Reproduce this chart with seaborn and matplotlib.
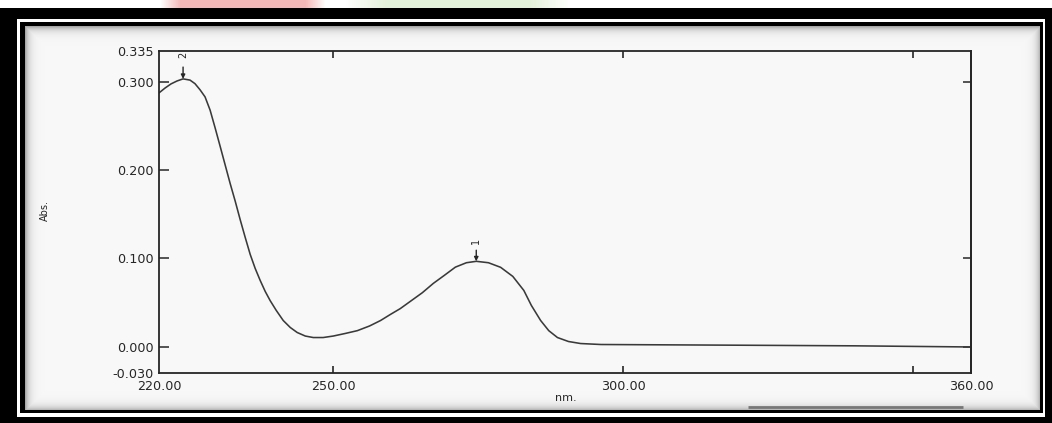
import numpy as np
import pandas as pd
import matplotlib
matplotlib.use("Agg")
import matplotlib.pyplot as plt
import seaborn as sns
from matplotlib.patches import Rectangle

# ---------------- data ----------------
wavelength = [220.00, 221.04, 222.07, 223.10, 224.15, 225.35, 226.20, 227.08, 227.94, 228.81,
              229.67, 230.54, 231.40, 232.26, 233.13, 233.99, 234.85, 235.72, 236.58, 237.44,
              238.31, 239.17, 240.21, 241.42, 242.63, 243.83, 245.22, 246.60, 248.30, 250.05,
              252.10, 254.20, 256.30, 258.20, 259.90, 261.60, 263.50, 265.40, 267.30, 269.20,
              271.10, 273.00, 274.70, 276.80, 278.90, 281.00, 282.90, 284.20, 285.80, 287.20,
              288.70, 290.60, 292.70, 296.20, 305.00, 320.00, 340.00, 360.00]
absorbance = [0.2875, 0.2930, 0.2977, 0.3010, 0.3034, 0.3020, 0.2980, 0.2910, 0.2830, 0.2680,
              0.2480, 0.2270, 0.2060, 0.1850, 0.1650, 0.1440, 0.1240, 0.1045, 0.0886, 0.0750,
              0.0625, 0.0520, 0.0410, 0.0295, 0.0216, 0.0159, 0.0119, 0.0102, 0.0102, 0.0119,
              0.0148, 0.0180, 0.0233, 0.0295, 0.0364, 0.0430, 0.0520, 0.0610, 0.0716, 0.0807,
              0.0900, 0.0950, 0.0966, 0.0950, 0.0898, 0.0795, 0.0636, 0.0466, 0.0295, 0.0180,
              0.0102, 0.0057, 0.0034, 0.0023, 0.0020, 0.0015, 0.0008, -0.0005]

peak_nm = [274.7, 224.15]
peak_abs = [0.0966, 0.3034]
peak_labels = ["1", "2"]

x_label_pos = [220, 250, 300, 360]
x_labels = ["220.00", "250.00", "300.00", "360.00"]
x_tick_marks = [250, 300, 350]

y_label_pos = [0.335, 0.300, 0.200, 0.100, 0.000, -0.030]
y_labels = ["0.335", "0.300", "0.200", "0.100", "0.000", "-0.030"]
y_tick_marks_left = [0.300, 0.200, 0.100, 0.000]
y_tick_marks_right = [0.300, 0.100, 0.000]

df = pd.DataFrame({"nm": wavelength, "Abs": absorbance})

# ---------------- style ----------------
sns.set_style("white")
plt.rcParams["font.family"] = ["DejaVu Sans"]
ink = "#262626"

W, H = 1052, 423
fig = plt.figure(figsize=(W / 100, H / 100), dpi=100)
fig.patch.set_facecolor("white")

# ---------------- background: scanned page frame ----------------
bg = fig.add_axes([0, 0, 1, 1])
bg.set_xlim(0, W)
bg.set_ylim(H, 0)
bg.axis("off")

yy, xx = np.mgrid[0:H, 0:W].astype(float)
x0, x1, y0, y1 = 25, 1040, 26, 410
d = np.minimum.reduce([xx - x0, x1 - xx, yy - y0, y1 - yy])
d = np.clip(d, 0, None)
shade = 0.975 - 0.32 * np.exp(-d / 4.0)
img = np.ones((H, W, 3))
inside = (xx >= x0) & (xx <= x1) & (yy >= y0) & (yy <= y1)
for c in range(3):
    img[..., c] = np.where(inside, shade, 1.0)

# faint blurred watermark colours above the frame
def soft_band(xa, xb, edge):
    return np.clip(np.minimum(xx - xa, xb - xx) / edge, 0, 1)

top = yy < 8
pink = soft_band(160, 325, 20) * top
green = soft_band(345, 570, 40) * top
pink_rgb = np.array([0.96, 0.72, 0.72])
green_rgb = np.array([0.90, 0.95, 0.86])
for c in range(3):
    img[..., c] = img[..., c] * (1 - pink) + pink_rgb[c] * pink
    img[..., c] = img[..., c] * (1 - green) + green_rgb[c] * green
bg.imshow(img, extent=[0, W, H, 0], aspect="auto", interpolation="bilinear", zorder=0)

# outer black frame
bg.add_patch(Rectangle((0, 8), W, 11, color="black", lw=0, zorder=2))       # top
bg.add_patch(Rectangle((0, 8), 17, H - 8, color="black", lw=0, zorder=2))   # left
bg.add_patch(Rectangle((1045, 8), 7, H - 8, color="black", lw=0, zorder=2)) # right
bg.add_patch(Rectangle((0, 417), W, 6, color="black", lw=0, zorder=2))      # bottom
# inner thin black frame
bg.add_patch(Rectangle((20, 22), 5, 391, color="black", lw=0, zorder=2))
bg.add_patch(Rectangle((20, 22), 1023, 4, color="black", lw=0, zorder=2))
bg.add_patch(Rectangle((1040, 22), 3, 391, color="black", lw=0, zorder=2))
bg.add_patch(Rectangle((20, 410), 1023, 3, color="black", lw=0, zorder=2))
# cropped text bar at bottom
bg.plot([748, 963], [407, 407], color="#777777", lw=2.0, zorder=1, solid_capstyle="butt")

# ---------------- main chart ----------------
ax = fig.add_axes([159 / W, 1 - 373 / H, (971 - 159) / W, (373 - 51) / H])
ax.set_facecolor("none")
sns.lineplot(data=df, x="nm", y="Abs", ax=ax, color="#3a3a3a", lw=1.15,
             sort=False, estimator=None)

ax.set_xlim(220, 360)
ax.set_ylim(-0.030, 0.335)
ax.set_xlabel("")
ax.set_ylabel("")

for s in ax.spines.values():
    s.set_visible(True)
    s.set_color(ink)
    s.set_linewidth(1.3)

ax.xaxis.remove_overlapping_locs = False
ax.yaxis.remove_overlapping_locs = False

ax.set_xticks(x_label_pos)
ax.set_xticklabels(x_labels)
ax.set_xticks(x_tick_marks, minor=True)
ax.tick_params(axis="x", which="major", length=0, pad=5, labelsize=9.2, labelcolor=ink)
ax.tick_params(axis="x", which="minor", direction="in", length=5, width=1.2,
               top=True, bottom=True, color=ink)

ax.set_yticks(y_label_pos)
ax.set_yticklabels(y_labels)
ax.set_yticks(y_tick_marks_left, minor=True)
ax.tick_params(axis="y", which="major", length=0, pad=4, labelsize=9.2, labelcolor=ink)
ax.tick_params(axis="y", which="minor", direction="in", length=7, width=1.1,
               left=True, right=False, color=ink)

sec = ax.secondary_yaxis("right")
sec.set_yticks(y_tick_marks_right)
sec.set_yticklabels([])
sec.tick_params(direction="in", length=6, width=1.1, color=ink)
sec.spines["right"].set_color(ink)
sec.spines["right"].set_linewidth(1.3)

# peak markers
for xp, yp, lab, arr_len, lab_off in zip(peak_nm, peak_abs, peak_labels, [8, 8.5], [15, 17]):
    ax.annotate("", xy=(xp, yp), xytext=(0, arr_len), textcoords="offset points",
                arrowprops=dict(arrowstyle="-|>", color=ink, lw=1.0,
                                mutation_scale=6, shrinkA=0, shrinkB=0))
    ax.annotate(lab, xy=(xp, yp), xytext=(0, lab_off), textcoords="offset points",
                rotation=90, ha="center", va="center", fontsize=7, color=ink)

fig.text(45 / W, 1 - 210 / H, "Abs.", rotation=90, ha="center", va="center",
         fontsize=7, color=ink)
fig.text(566 / W, 1 - 398 / H, "nm.", ha="center", va="center", fontsize=8, color=ink)

fig.savefig("out.png", dpi=100)
